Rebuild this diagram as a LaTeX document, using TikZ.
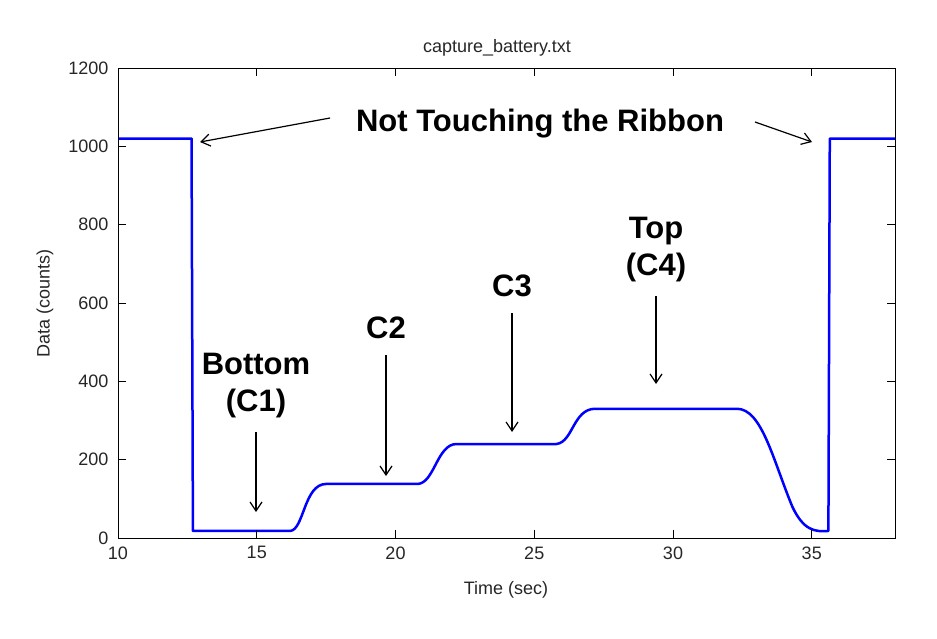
\documentclass[tikz,border=0pt]{standalone}
\usepackage{fontspec}
\setmainfont{Liberation Sans}
\usetikzlibrary{arrows.meta}
\begin{document}
\begin{tikzpicture}[x=1pt,y=-1pt,
  lab/.style={font=\fontsize{18}{20}\selectfont,text=black!85},
  ann/.style={font=\fontsize{31}{37}\selectfont\bfseries,align=center},
  arr/.style={-{Straight Barb[length=9pt,width=12pt]},line width=1.2pt}]
\useasboundingbox (0,0) rectangle (937,638);
\def\X#1{118+(#1-10)*27.75}
\def\Y#1{538-(#1)*0.39167}
% curve
\draw[blue,line width=2.5pt,line join=round]
 ({\X{10}},{\Y{1020}}) -- ({\X{12.65}},{\Y{1020}}) -- ({\X{12.7}},{\Y{18}}) -- ({\X{16.2}},{\Y{18}})
 .. controls ({\X{16.7}},{\Y{20}}) and ({\X{16.7}},{\Y{138}}) .. ({\X{17.5}},{\Y{138}})
 -- ({\X{20.8}},{\Y{138}})
 .. controls ({\X{21.4}},{\Y{140}}) and ({\X{21.5}},{\Y{240}}) .. ({\X{22.2}},{\Y{240}})
 -- ({\X{25.8}},{\Y{240}})
 .. controls ({\X{26.4}},{\Y{245}}) and ({\X{26.4}},{\Y{330}}) .. ({\X{27.2}},{\Y{330}})
 -- ({\X{32.3}},{\Y{330}})
 .. controls ({\X{33.2}},{\Y{330}}) and ({\X{33.6}},{\Y{200}}) .. ({\X{34.3}},{\Y{80}})
 .. controls ({\X{34.7}},{\Y{20}}) and ({\X{35.1}},{\Y{15}}) .. ({\X{35.6}},{\Y{18}})
 -- ({\X{35.65}},{\Y{1020}}) -- ({\X{38}},{\Y{1020}});
% frame
\draw[line width=1pt] (118,68) rectangle (895,538);
\foreach \v in {10,15,...,35}{
  \draw[line width=0.8pt] ({\X{\v}},538) -- ++(0,-8) ({\X{\v}},68) -- ++(0,8);
  \node[lab,anchor=north] (t\v) at ({\X{\v}},543) {\v};}
\foreach \v in {0,200,...,1200}{
  \draw[line width=0.8pt] (118,{\Y{\v}}) -- ++(8,0) (895,{\Y{\v}}) -- ++(-8,0);
  \node[lab,anchor=east] (y\v) at (112,{\Y{\v}}) {\v};}
\node[lab] (title) at (497,48) {capture\_battery.txt};
\node[lab] (xl) at (506,590) {Time (sec)};
\node[lab,rotate=90] (yl) at (45,303) {Data (counts)};
% annotations
\node[ann] (nt) at (540,124) {Not Touching the Ribbon};
\coordinate (a1) at (200,142); \coordinate (a2) at (812,142);
\draw[arr] (330,118) -- (a1);
\draw[arr] (755,122) -- (a2);
\node[ann] (c1) at (256,386) {Bottom\\(C1)};
\coordinate (p1) at (256,512);
\draw[arr] (256,432) -- (p1);
\node[ann] (c2) at (386,328) {C2};
\coordinate (p2) at (386,476);
\draw[arr] (386,355) -- (p2);
\node[ann] (c3) at (512,286) {C3};
\coordinate (p3) at (512,432);
\draw[arr] (512,313) -- (p3);
\node[ann] (c4) at (656,250) {Top\\(C4)};
\coordinate (p4) at (656,384);
\draw[arr] (656,296) -- (p4);
\end{tikzpicture}
\end{document}
